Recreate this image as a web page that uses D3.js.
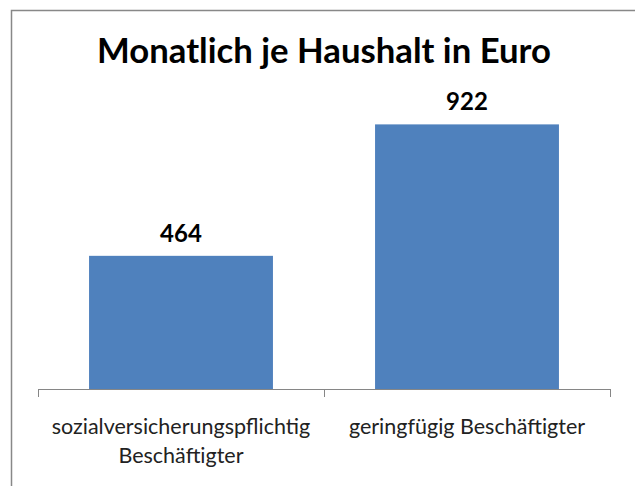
<!DOCTYPE html>
<meta charset="utf-8">
<style>
  body { margin: 0; background: #fff; }
  svg { display: block; }
</style>
<svg width="635" height="486"></svg>
<script src="https://cdn.jsdelivr.net/npm/d3@7"></script>
<script>
const title = "Monatlich je Haushalt in Euro";
const categories = ["sozialversicherungspflichtig Beschäftigter", "geringfügig Beschäftigter"];
const categoryLines = [["sozialversicherungspflichtig", "Beschäftigter"], ["geringfügig Beschäftigter"]];
const values = [464, 922];

const svg = d3.select("svg");
const font = "Lato, 'Open Sans', sans-serif";

// chart frame
svg.append("rect")
    .attr("x", 11.5).attr("y", 10.5)
    .attr("width", 640).attr("height", 490)
    .attr("fill", "#fff")
    .attr("stroke", "#888").attr("stroke-width", 1.5);

const margin = {top: 102, left: 38, right: 610, bottom: 389};

const x = d3.scaleBand(categories, [margin.left, margin.right])
    .paddingInner(0)
    .paddingOuter(0);
const y = d3.scaleLinear([0, 1000], [margin.bottom, margin.top]);
const bw = x.bandwidth() * 0.643;

svg.append("text")
    .attr("x", 324).attr("y", 63)
    .attr("text-anchor", "middle")
    .attr("font-family", font)
    .attr("font-weight", "bold")
    .attr("font-size", 34)
    .attr("textLength", 454)
    .attr("lengthAdjust", "spacingAndGlyphs")
    .attr("fill", "#000")
    .text(title);

svg.append("g")
  .selectAll("rect")
  .data(categories)
  .join("rect")
    .attr("x", (d, i) => x(d) + (x.bandwidth() - bw) / 2)
    .attr("y", (d, i) => y(values[i]))
    .attr("width", bw)
    .attr("height", (d, i) => y(0) - y(values[i]))
    .attr("fill", "#4F81BD");

svg.append("g")
  .selectAll("text")
  .data(categories)
  .join("text")
    .attr("x", d => x(d) + x.bandwidth() / 2)
    .attr("y", (d, i) => y(values[i]) - 14)
    .attr("text-anchor", "middle")
    .attr("font-family", font)
    .attr("font-weight", "bold")
    .attr("font-size", 24)
    .text((d, i) => values[i]);

// axis line with ticks between categories
const axis = svg.append("g").attr("stroke", "#868686").attr("fill", "none");
axis.append("line")
    .attr("x1", margin.left).attr("x2", margin.right)
    .attr("y1", margin.bottom + 0.5).attr("y2", margin.bottom + 0.5);
const tickPos = categories.map(d => x(d)).concat([x(categories[categories.length - 1]) + x.bandwidth()]);
axis.selectAll("line.tick")
  .data(tickPos)
  .join("line")
    .attr("class", "tick")
    .attr("x1", d => Math.round(d) + 0.5).attr("x2", d => Math.round(d) + 0.5)
    .attr("y1", margin.bottom).attr("y2", margin.bottom + 8);

svg.append("g")
  .selectAll("text")
  .data(categories)
  .join("text")
    .attr("x", d => x(d) + x.bandwidth() / 2)
    .attr("y", 434)
    .attr("text-anchor", "middle")
    .attr("font-family", font)
    .attr("font-size", 21.5)
    .attr("fill", "#222")
    .each(function(d, i) {
      d3.select(this).selectAll("tspan")
        .data(categoryLines[i])
        .join("tspan")
          .attr("x", x(d) + x.bandwidth() / 2)
          .attr("dy", (l, j) => j === 0 ? 0 : 29)
          .text(l => l);
    });
</script>
